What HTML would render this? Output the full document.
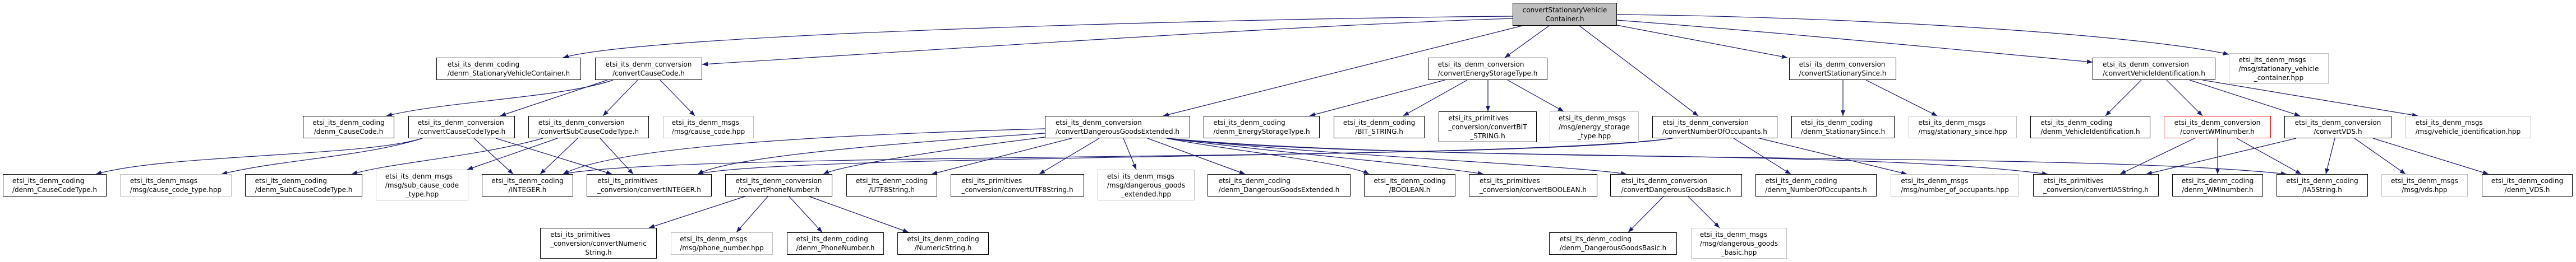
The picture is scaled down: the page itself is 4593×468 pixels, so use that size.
<!DOCTYPE html>
<html><head><meta charset="utf-8">
<style>
html,body{margin:0;padding:0;background:#fff;}
body{width:4593px;height:468px;position:relative;overflow:hidden;}
svg{position:absolute;left:0;top:0;}
.n{position:absolute;box-sizing:border-box;border:1px solid #000;background:#fff;display:flex;align-items:center;justify-content:center;font:12px/16px "DejaVu Sans","Liberation Sans",sans-serif;color:#000;white-space:nowrap;height:40px;}
.n span{display:inline-block;text-align:left;}
.n span i{display:block;font-style:normal;}
.n span i:last-child{text-align:center;}
.g{border-color:#bfbfbf;}
.r{border-color:#ff0000;}
.t{height:55px;}
</style></head><body>
<svg width="4593" height="468" viewBox="0 0 4593 468">
<defs><marker id="a" markerUnits="userSpaceOnUse" markerWidth="11" markerHeight="9" refX="10" refY="4" orient="auto"><path d="M0,0 L10,4 L0,8 z" fill="#191970"/></marker></defs>
<g fill="none" stroke="#191970" stroke-width="1.2" marker-end="url(#a)">
<path d="M2697,29 C2200,33 1150,60 1004,103"/>
<path d="M2697,33 C2300,45 1500,100 1252,115"/>
<path d="M2714,46 L2074,207"/>
<path d="M2762,46 L2683,103"/>
<path d="M2816,46 L3028,207"/>
<path d="M2883,45 L3187,103"/>
<path d="M2883,36 C3200,60 3500,90 3731,111"/>
<path d="M2883,26 C3300,30 3800,60 3974,97"/>
<path d="M1093,143 C1000,175 800,180 689,207"/>
<path d="M1083,143 L892,207"/>
<path d="M1137,143 L1075,207"/>
<path d="M1177,143 L1239,207"/>
<path d="M753,247 C650,280 300,275 171,311"/>
<path d="M753,247 C650,280 500,285 395,311"/>
<path d="M845,247 L915,311"/>
<path d="M884,247 L1091,311"/>
<path d="M968,247 C850,280 700,290 627,311"/>
<path d="M994,247 L833,303"/>
<path d="M1030,247 L963,311"/>
<path d="M1070,247 L1129,311"/>
<path d="M1863,230 C1500,240 1100,260 1004,311"/>
<path d="M1863,238 C1600,255 1300,280 1244,311"/>
<path d="M1863,245 C1700,265 1500,295 1468,311"/>
<path d="M1911,247 L1661,311"/>
<path d="M1960,247 L1853,311"/>
<path d="M2003,247 L2026,303"/>
<path d="M2046,247 L2220,311"/>
<path d="M2080,247 C2200,270 2400,290 2441,311"/>
<path d="M2080,247 C2300,275 2550,295 2645,311"/>
<path d="M2080,247 C2400,280 2800,295 2900,311"/>
<path d="M2080,247 C2500,290 3300,265 3651,311"/>
<path d="M2080,247 C2600,295 3700,270 4077,311"/>
<path d="M2982,247 C2700,290 1200,270 1004,311"/>
<path d="M2982,247 C2700,285 1400,275 1244,311"/>
<path d="M3091,247 L3193,311"/>
<path d="M3137,247 L3400,311"/>
<path d="M2576,143 L2335,207"/>
<path d="M2616,143 L2502,207"/>
<path d="M2653,143 L2653,199"/>
<path d="M2688,143 L2788,199"/>
<path d="M3286,143 L3286,207"/>
<path d="M3327,143 L3454,207"/>
<path d="M3818,143 L3754,207"/>
<path d="M3863,143 L3927,207"/>
<path d="M3904,143 L4101,207"/>
<path d="M3927,143 L4311,207"/>
<path d="M3913,247 L3780,311"/>
<path d="M3954,247 L3954,311"/>
<path d="M3988,247 L4103,311"/>
<path d="M4094,247 L3827,311"/>
<path d="M4163,247 L4147,311"/>
<path d="M4198,247 L4289,311"/>
<path d="M4231,247 L4437,311"/>
<path d="M1328,351 L1157,407"/>
<path d="M1369,351 L1313,415"/>
<path d="M1407,351 L1466,415"/>
<path d="M1443,351 L1620,415"/>
<path d="M2966,351 L2903,415"/>
<path d="M3010,351 L3066,407"/>
</g>
</svg>

<div class="n" style="left:2697px;top:5px;width:186px;height:41px;background:#bfbfbf"><span><i>convertStationaryVehicle</i><i>Container.h</i></span></div>

<div class="n" style="left:778px;top:103px;width:258px"><span><i>etsi_its_denm_coding</i><i>/denm_StationaryVehicleContainer.h</i></span></div>
<div class="n" style="left:1061px;top:103px;width:191px"><span><i>etsi_its_denm_conversion</i><i>/convertCauseCode.h</i></span></div>
<div class="n" style="left:2546px;top:103px;width:213px"><span><i>etsi_its_denm_conversion</i><i>/convertEnergyStorageType.h</i></span></div>
<div class="n" style="left:3190px;top:103px;width:191px"><span><i>etsi_its_denm_conversion</i><i>/convertStationarySince.h</i></span></div>
<div class="n" style="left:3731px;top:103px;width:219px"><span><i>etsi_its_denm_conversion</i><i>/convertVehicleIdentification.h</i></span></div>
<div class="n g t" style="left:3974px;top:95px;width:178px"><span><i>etsi_its_denm_msgs</i><i>/msg/stationary_vehicle</i><i>_container.hpp</i></span></div>

<div class="n" style="left:540px;top:207px;width:163px"><span><i>etsi_its_denm_coding</i><i>/denm_CauseCode.h</i></span></div>
<div class="n" style="left:728px;top:207px;width:190px"><span><i>etsi_its_denm_conversion</i><i>/convertCauseCodeType.h</i></span></div>
<div class="n" style="left:942px;top:207px;width:215px"><span><i>etsi_its_denm_conversion</i><i>/convertSubCauseCodeType.h</i></span></div>
<div class="n g" style="left:1182px;top:207px;width:162px"><span><i>etsi_its_denm_msgs</i><i>/msg/cause_code.hpp</i></span></div>
<div class="n" style="left:1863px;top:207px;width:259px"><span><i>etsi_its_denm_conversion</i><i>/convertDangerousGoodsExtended.h</i></span></div>
<div class="n" style="left:2146px;top:207px;width:207px"><span><i>etsi_its_denm_coding</i><i>/denm_EnergyStorageType.h</i></span></div>
<div class="n" style="left:2378px;top:207px;width:162px"><span><i>etsi_its_denm_coding</i><i>/BIT_STRING.h</i></span></div>
<div class="n t" style="left:2565px;top:199px;width:175px"><span><i>etsi_its_primitives</i><i>_conversion/convertBIT</i><i>_STRING.h</i></span></div>
<div class="n g t" style="left:2763px;top:199px;width:159px"><span><i>etsi_its_denm_msgs</i><i>/msg/energy_storage</i><i>_type.hpp</i></span></div>
<div class="n" style="left:2946px;top:207px;width:223px"><span><i>etsi_its_denm_conversion</i><i>/convertNumberOfOccupants.h</i></span></div>
<div class="n" style="left:3194px;top:207px;width:184px"><span><i>etsi_its_denm_coding</i><i>/denm_StationarySince.h</i></span></div>
<div class="n g" style="left:3403px;top:207px;width:193px"><span><i>etsi_its_denm_msgs</i><i>/msg/stationary_since.hpp</i></span></div>
<div class="n" style="left:3620px;top:207px;width:214px"><span><i>etsi_its_denm_coding</i><i>/denm_VehicleIdentification.h</i></span></div>
<div class="n r" style="left:3858px;top:207px;width:191px"><span><i>etsi_its_denm_conversion</i><i>/convertWMInumber.h</i></span></div>
<div class="n" style="left:4073px;top:207px;width:191px"><span><i>etsi_its_denm_conversion</i><i>/convertVDS.h</i></span></div>
<div class="n g" style="left:4288px;top:207px;width:225px"><span><i>etsi_its_denm_msgs</i><i>/msg/vehicle_identification.hpp</i></span></div>

<div class="n" style="left:5px;top:311px;width:185px"><span><i>etsi_its_denm_coding</i><i>/denm_CauseCodeType.h</i></span></div>
<div class="n g" style="left:214px;top:311px;width:199px"><span><i>etsi_its_denm_msgs</i><i>/msg/cause_code_type.hpp</i></span></div>
<div class="n" style="left:437px;top:311px;width:209px"><span><i>etsi_its_denm_coding</i><i>/denm_SubCauseCodeType.h</i></span></div>
<div class="n g t" style="left:670px;top:303px;width:165px"><span><i>etsi_its_denm_msgs</i><i>/msg/sub_cause_code</i><i>_type.hpp</i></span></div>
<div class="n" style="left:859px;top:311px;width:163px"><span><i>etsi_its_denm_coding</i><i>/INTEGER.h</i></span></div>
<div class="n" style="left:1046px;top:311px;width:223px"><span><i>etsi_its_primitives</i><i>_conversion/convertINTEGER.h</i></span></div>
<div class="n" style="left:1293px;top:311px;width:191px"><span><i>etsi_its_denm_conversion</i><i>/convertPhoneNumber.h</i></span></div>
<div class="n" style="left:1509px;top:311px;width:162px"><span><i>etsi_its_denm_coding</i><i>/UTF8String.h</i></span></div>
<div class="n" style="left:1695px;top:311px;width:238px"><span><i>etsi_its_primitives</i><i>_conversion/convertUTF8String.h</i></span></div>
<div class="n g t" style="left:1957px;top:303px;width:173px"><span><i>etsi_its_denm_msgs</i><i>/msg/dangerous_goods</i><i>_extended.hpp</i></span></div>
<div class="n" style="left:2153px;top:311px;width:255px"><span><i>etsi_its_denm_coding</i><i>/denm_DangerousGoodsExtended.h</i></span></div>
<div class="n" style="left:2432px;top:311px;width:163px"><span><i>etsi_its_denm_coding</i><i>/BOOLEAN.h</i></span></div>
<div class="n" style="left:2619px;top:311px;width:229px"><span><i>etsi_its_primitives</i><i>_conversion/convertBOOLEAN.h</i></span></div>
<div class="n" style="left:2871px;top:311px;width:235px"><span><i>etsi_its_denm_conversion</i><i>/convertDangerousGoodsBasic.h</i></span></div>
<div class="n" style="left:3130px;top:311px;width:216px"><span><i>etsi_its_denm_coding</i><i>/denm_NumberOfOccupants.h</i></span></div>
<div class="n g" style="left:3371px;top:311px;width:229px"><span><i>etsi_its_denm_msgs</i><i>/msg/number_of_occupants.hpp</i></span></div>
<div class="n" style="left:3625px;top:311px;width:224px"><span><i>etsi_its_primitives</i><i>_conversion/convertIA5String.h</i></span></div>
<div class="n" style="left:3873px;top:311px;width:162px"><span><i>etsi_its_denm_coding</i><i>/denm_WMInumber.h</i></span></div>
<div class="n" style="left:4059px;top:311px;width:163px"><span><i>etsi_its_denm_coding</i><i>/IA5String.h</i></span></div>
<div class="n g" style="left:4246px;top:311px;width:154px"><span><i>etsi_its_denm_msgs</i><i>/msg/vds.hpp</i></span></div>
<div class="n" style="left:4425px;top:311px;width:162px"><span><i>etsi_its_denm_coding</i><i>/denm_VDS.h</i></span></div>

<div class="n t" style="left:963px;top:407px;width:208px"><span><i>etsi_its_primitives</i><i>_conversion/convertNumeric</i><i>String.h</i></span></div>
<div class="n g" style="left:1196px;top:415px;width:182px"><span><i>etsi_its_denm_msgs</i><i>/msg/phone_number.hpp</i></span></div>
<div class="n" style="left:1403px;top:415px;width:173px"><span><i>etsi_its_denm_coding</i><i>/denm_PhoneNumber.h</i></span></div>
<div class="n" style="left:1600px;top:415px;width:163px"><span><i>etsi_its_denm_coding</i><i>/NumericString.h</i></span></div>
<div class="n" style="left:2762px;top:415px;width:228px"><span><i>etsi_its_denm_coding</i><i>/denm_DangerousGoodsBasic.h</i></span></div>
<div class="n g t" style="left:3015px;top:407px;width:171px"><span><i>etsi_its_denm_msgs</i><i>/msg/dangerous_goods</i><i>_basic.hpp</i></span></div>
</body></html>
